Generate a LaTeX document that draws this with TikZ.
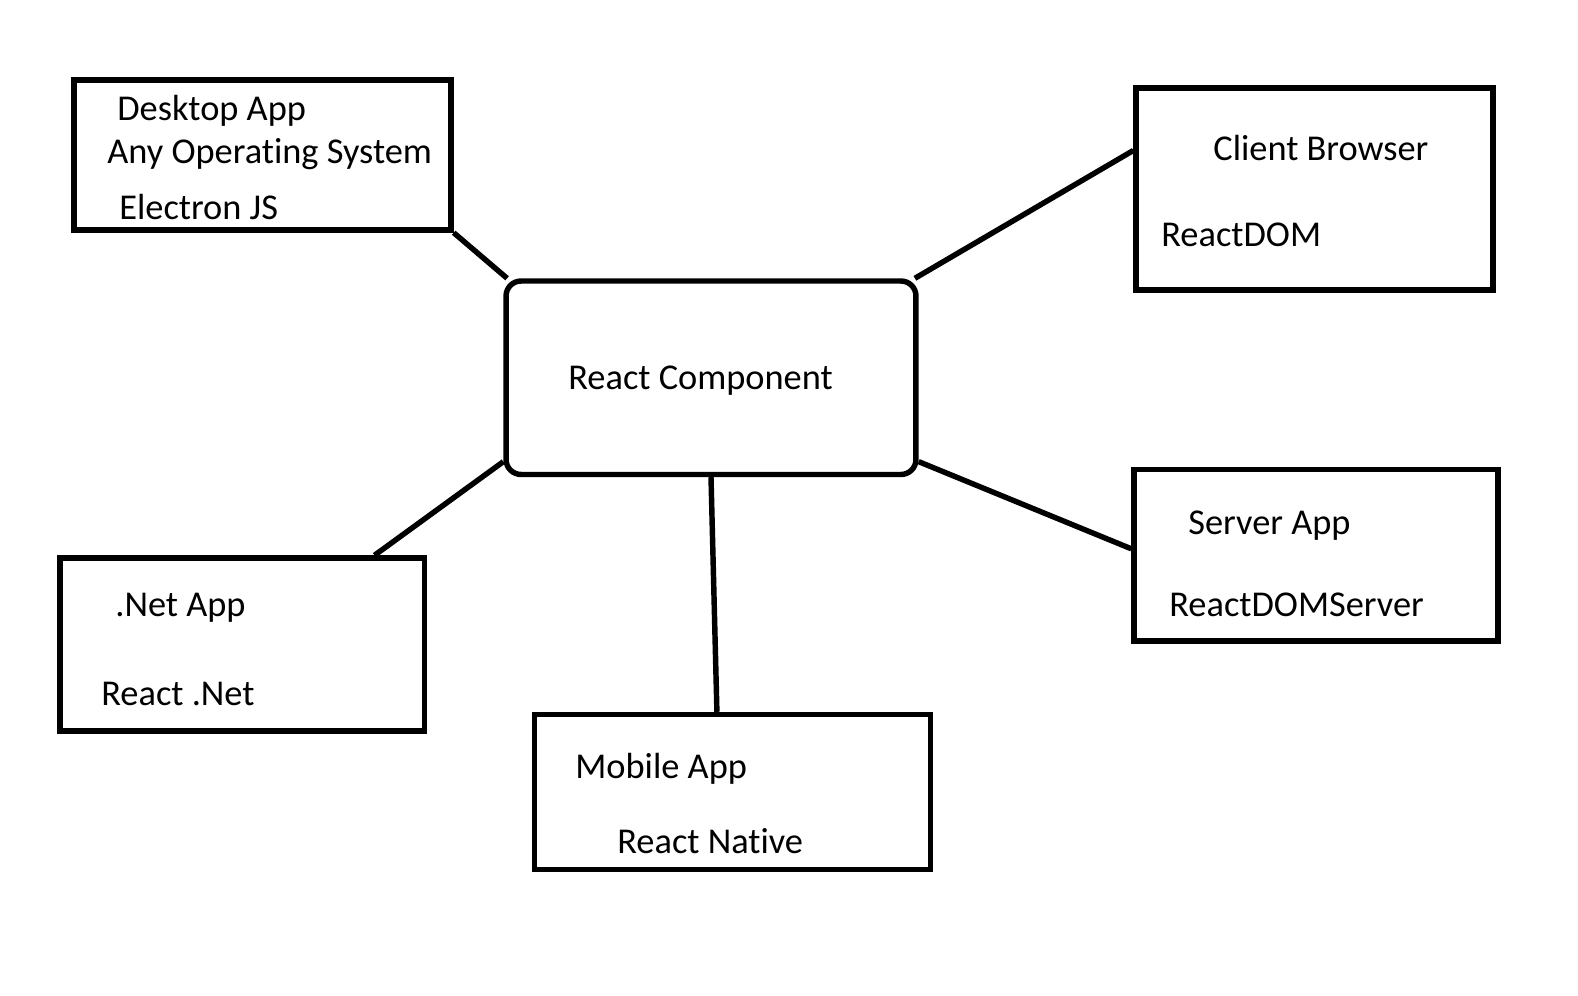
\documentclass[tikz,border=0pt]{standalone}
\usepackage{fontspec}
\setmainfont{Carlito}[Ligatures=NoCommon]
\usepackage{tikz}

\begin{document}
\begin{tikzpicture}[x=0.02cm, y=-0.02cm,
	box/.style={rectangle, draw=black, line width=3.1pt, inner sep=0pt},
	txt/.style={anchor=base west, inner sep=0pt, font=\fontsize{20.7}{24}\selectfont},
	link/.style={line width=3.1pt}]
			\useasboundingbox (0,0) rectangle (1578,996);
			\node (desk) at (262.5,155) [box, minimum width=7.54cm, minimum height=3cm] {};
			\node (client) at (1314.5,189) [box, minimum width=7.14cm, minimum height=4.04cm] {};
			\node (react) at (711,377.75) [box, rounded corners=0.3cm, minimum width=8.2cm, minimum height=3.87cm] {};
			\node (server) at (1316,555.25) [box, minimum width=7.28cm, minimum height=3.43cm] {};
			\node (net) at (242.25,644.5) [box, minimum width=7.29cm, minimum height=3.46cm] {};
			\node (mob) at (732.5,792) [box, minimum width=7.92cm, minimum height=3.1cm] {};
			
			\node (t1) at (117,120.5) [txt] {Desktop App};
			\node (t2) at (107,164) [txt] {Any Operating System};
			\node (t3) at (119,220) [txt] {Electron JS};
			\node (t4) at (1213,161) [txt] {Client Browser};
			\node (t5) at (1161,247) [txt] {ReactDOM};
			\node (t6) at (568,390) [txt] {React Component};
			\node (t7) at (1188,534) [txt] {Server App};
			\node (t8) at (1169,616) [txt] {ReactDOMServer};
			\node (t9) at (115,616) [txt] {.Net App};
			\node (t10) at (101,705) [txt] {React .Net};
			\node (t11) at (575,778) [txt] {Mobile App};
			\node (t12) at (617,853) [txt] {React Native};
			
			\draw[link] (desk.south east)--(react.154);
			\draw[link] (react.26)--(client.168);
			\draw[link] (react.202)--(net.34);
			\draw[link] (react.south)--(mob.101);
			\draw[link] (react.338)--(server.178);
		\end{tikzpicture}
\end{document}
